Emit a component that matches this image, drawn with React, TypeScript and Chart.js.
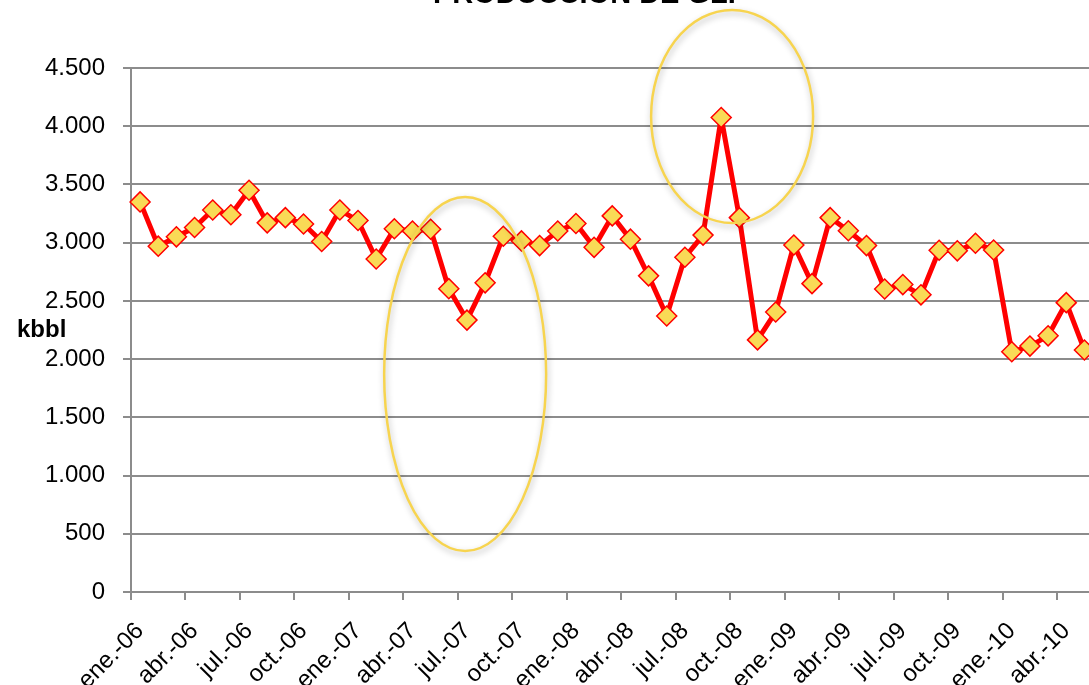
import React, { useEffect, useRef } from 'react';
import { Chart, registerables } from 'chart.js';

Chart.register(...registerables);

const TITLE = 'PRODUCCIÓN DE GLP';
const Y_TITLE = 'kbbl';

const categories = [
  'ene.-06', 'feb.-06', 'mar.-06', 'abr.-06', 'may.-06', 'jun.-06', 'jul.-06', 'ago.-06', 'sep.-06', 'oct.-06', 'nov.-06', 'dic.-06',
  'ene.-07', 'feb.-07', 'mar.-07', 'abr.-07', 'may.-07', 'jun.-07', 'jul.-07', 'ago.-07', 'sep.-07', 'oct.-07', 'nov.-07', 'dic.-07',
  'ene.-08', 'feb.-08', 'mar.-08', 'abr.-08', 'may.-08', 'jun.-08', 'jul.-08', 'ago.-08', 'sep.-08', 'oct.-08', 'nov.-08', 'dic.-08',
  'ene.-09', 'feb.-09', 'mar.-09', 'abr.-09', 'may.-09', 'jun.-09', 'jul.-09', 'ago.-09', 'sep.-09', 'oct.-09', 'nov.-09', 'dic.-09',
  'ene.-10', 'feb.-10', 'mar.-10', 'abr.-10', 'may.-10',
];

const production = [
  3350, 2970, 3050, 3130, 3280, 3240, 3450, 3170, 3215, 3160, 3010, 3280,
  3190, 2860, 3120, 3100, 3115, 2605, 2335, 2655, 3055, 3015, 2975, 3100,
  3165, 2960, 3230, 3030, 2715, 2370, 2875, 3065, 4075, 3215, 2165, 2405,
  2980, 2648, 3215, 3102, 2975, 2602, 2640, 2552, 2935, 2930, 2995, 2937,
  2063, 2112, 2200, 2485, 2078,
];

const yMin = 0;
const yMax = 4500;
const yStep = 500;
const labelEvery = 3;

// highlighted regions (ellipses) in data units: centre category index, centre value, half-span in categories, half-span in value
const highlightIndex = [17.9, 32.6];
const highlightValue = [1872, 4084];
const highlightHalfCats = [4.46, 4.46];
const highlightHalfValue = [1520, 915];

const FONT = '"Liberation Sans", Arial, Helvetica, sans-serif';
const GRID = '#8c8c8c';

const fmt = (v: number) => String(v).replace(/\B(?=(\d{3})+(?!\d))/g, '.');

const overlayPlugin = {
  id: 'overlay',
  afterDatasetsDraw(chart: any) {
    const { ctx, chartArea } = chart;
    const x = chart.scales.x;
    const y = chart.scales.y;
    const catW = x.getPixelForValue(1) - x.getPixelForValue(0);
    ctx.save();
    for (let i = 0; i < highlightIndex.length; i++) {
      const cx = x.getPixelForValue(highlightIndex[i]);
      const cy = y.getPixelForValue(highlightValue[i]);
      const rx = highlightHalfCats[i] * catW;
      const ry = Math.abs(y.getPixelForValue(highlightValue[i] + highlightHalfValue[i]) - cy);
      ctx.beginPath();
      ctx.ellipse(cx, cy, rx, ry, 0, 0, Math.PI * 2);
      ctx.shadowColor = 'rgba(0,0,0,0.28)';
      ctx.shadowBlur = 6;
      ctx.shadowOffsetX = 1;
      ctx.shadowOffsetY = 3;
      ctx.strokeStyle = '#F7D44F';
      ctx.lineWidth = 2.5;
      ctx.stroke();
    }
    ctx.restore();

    ctx.save();
    ctx.fillStyle = '#000';
    ctx.font = `bold 29px ${FONT}`;
    ctx.textAlign = 'center';
    ctx.textBaseline = 'alphabetic';
    ctx.fillText(TITLE, 590, 3);
    ctx.font = `bold 24px ${FONT}`;
    ctx.textAlign = 'left';
    ctx.textBaseline = 'middle';
    ctx.fillText(Y_TITLE, 17, (chartArea.top + chartArea.bottom) / 2);
    ctx.restore();
  },
};

export default function App() {
  const ref = useRef<HTMLCanvasElement | null>(null);

  useEffect(() => {
    if (!ref.current) return;
    const chart = new Chart(ref.current, {
      type: 'line',
      data: {
        labels: categories,
        datasets: [
          {
            label: TITLE,
            data: production,
            borderColor: '#FF0000',
            borderWidth: 5,
            borderJoinStyle: 'round',
            tension: 0,
            pointStyle: 'rectRot',
            pointRadius: 10,
            pointBackgroundColor: '#F9DA56',
            pointBorderColor: '#FF0000',
            pointBorderWidth: 1.5,
            clip: false,
          },
        ],
      },
      options: {
        responsive: false,
        animation: false,
        layout: { padding: { top: 68, right: 6, left: 0, bottom: 0 } },
        plugins: {
          legend: { display: false },
          title: { display: false },
          tooltip: { enabled: false },
        },
        scales: {
          x: {
            type: 'category',
            offset: true,
            grid: {
              offset: true,
              drawOnChartArea: false,
              drawTicks: true,
              tickLength: 8,
              lineWidth: 2,
              color: (c: any) => (c.index % labelEvery === 0 ? GRID : 'rgba(0,0,0,0)'),
            },
            border: { display: true, color: GRID, width: 2 },
            ticks: {
              autoSkip: false,
              maxRotation: 45,
              minRotation: 45,
              padding: 17,
              color: '#000',
              font: { family: FONT, size: 24 },
              callback: (_v: any, i: number) => (i % labelEvery === 0 ? categories[i] : ''),
            },
            afterFit: (s: any) => {
              s.height = 93;
              s.paddingLeft = 0;
              s.paddingRight = 0;
            },
          },
          y: {
            min: yMin,
            max: yMax,
            ticks: {
              stepSize: yStep,
              padding: 18,
              color: '#000',
              font: { family: FONT, size: 24 },
              callback: (v: any) => fmt(Number(v)),
            },
            grid: { color: GRID, lineWidth: 2, tickLength: 8, drawTicks: true },
            border: { display: true, color: GRID, width: 2 },
            afterFit: (s: any) => {
              s.width = 131;
            },
          },
        },
      },
      plugins: [overlayPlugin],
    } as any);
    return () => chart.destroy();
  }, []);

  return (
    <div
      style={{
        position: 'fixed',
        left: 0,
        top: 0,
        width: 1089,
        height: 685,
        overflow: 'hidden',
        background: '#fff',
      }}
    >
      <canvas ref={ref} width={1105} height={685} style={{ display: 'block' }} />
    </div>
  );
}
